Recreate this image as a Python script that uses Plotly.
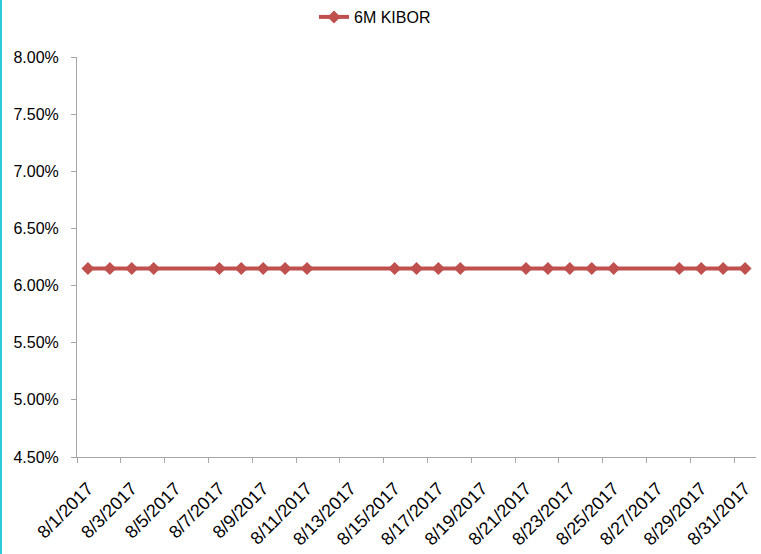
import plotly.graph_objects as go
import pandas as pd

# Data
dates = [
    "2017-08-01", "2017-08-02", "2017-08-03", "2017-08-04",
    "2017-08-07", "2017-08-08", "2017-08-09", "2017-08-10", "2017-08-11",
    "2017-08-15", "2017-08-16", "2017-08-17", "2017-08-18",
    "2017-08-21", "2017-08-22", "2017-08-23", "2017-08-24", "2017-08-25",
    "2017-08-28", "2017-08-29", "2017-08-30", "2017-08-31",
]
kibor_6m = [
    6.15, 6.15, 6.15, 6.15,
    6.15, 6.15, 6.15, 6.15, 6.15,
    6.15, 6.15, 6.15, 6.15,
    6.15, 6.15, 6.15, 6.15, 6.15,
    6.15, 6.15, 6.15, 6.15,
]
tick_labels = [
    "8/1/2017", "8/3/2017", "8/5/2017", "8/7/2017", "8/9/2017", "8/11/2017",
    "8/13/2017", "8/15/2017", "8/17/2017", "8/19/2017", "8/21/2017",
    "8/23/2017", "8/25/2017", "8/27/2017", "8/29/2017", "8/31/2017",
]
series_name = "6M KIBOR"

# Excel-style date axis: points sit in the middle of each day
half_day = pd.Timedelta(hours=12)
x_pts = pd.to_datetime(dates) + half_day
tick_days = pd.to_datetime(tick_labels, format="%m/%d/%Y")
label_pos = tick_days + half_day

W, H = 761, 554
ML, MR, MT, MB = 77, 5, 57, 97
pw = W - ML - MR
ph = H - MT - MB

font_main = "Liberation Sans, Arial, sans-serif"
red = "#C0504D"
axis_col = "#A6A6A6"

fig = go.Figure()
fig.add_trace(go.Scatter(
    x=x_pts, y=kibor_6m, mode="lines+markers", name=series_name,
    line=dict(color=red, width=4),
    marker=dict(symbol="diamond", size=10, color=red),
))

fig.update_layout(
    width=W, height=H,
    margin=dict(l=ML, r=MR, t=MT, b=MB, autoexpand=False),
    paper_bgcolor="white", plot_bgcolor="white",
    font=dict(family=font_main, size=16, color="#000000"),
    showlegend=True,
    legend=dict(
        orientation="h", x=(314 - ML) / pw, xanchor="left",
        y=1 + (MT - 0) / ph, yanchor="top",
        font=dict(size=16, color="#000000"),
        bgcolor="rgba(0,0,0,0)",
    ),
    xaxis=dict(
        type="date", automargin=False,
        range=[pd.Timestamp("2017-08-01"), pd.Timestamp("2017-09-01")],
        tickmode="array", tickvals=label_pos, ticktext=tick_labels,
        tickangle=-45, ticks="", showgrid=False, zeroline=False,
        showline=True, linecolor=axis_col, linewidth=1,
        tickfont=dict(size=18),
        ticklabelstandoff=13,
        minor=dict(tickmode="array", tickvals=tick_days, ticks="outside",
                   ticklen=5, tickcolor=axis_col, tickwidth=1, showgrid=False),
    ),
    yaxis=dict(
        automargin=False,
        range=[4.5, 8.0], tickmode="linear", tick0=4.5, dtick=0.5,
        tickformat=".2f", ticksuffix="%",
        ticks="outside", ticklen=5, tickcolor=axis_col,
        showgrid=False, zeroline=False,
        showline=True, linecolor=axis_col, linewidth=1,
        tickfont=dict(size=16),
        ticklabelstandoff=9,
    ),
    shapes=[dict(
        type="line", xref="paper", yref="paper",
        x0=-(ML - 1) / pw, x1=-(ML - 1) / pw,
        y0=-MB / ph, y1=1 + MT / ph,
        line=dict(color="#29CCD6", width=2),
    )],
)

fig.write_html(
    "out.html",
    config={"displayModeBar": False},
    post_script="document.body.style.margin='0';document.body.style.padding='0';",
)
